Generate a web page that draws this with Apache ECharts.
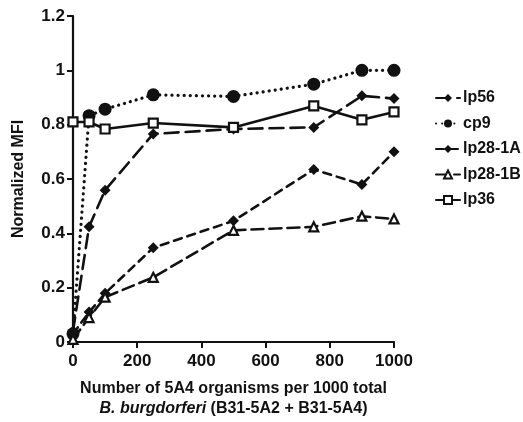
<!DOCTYPE html>
<html><head><meta charset="utf-8">
<script src="https://cdn.jsdelivr.net/npm/echarts@6/dist/echarts.min.js"></script>
<style>html,body{margin:0;padding:0;background:#fff}#c{width:523px;height:422px}</style>
</head><body><div id="c"></div>
<script>
const xValues = [0, 50, 100, 250, 500, 750, 900, 1000];
const lp56 = [0.04, 0.424, 0.559, 0.766, 0.784, 0.79, 0.906, 0.896];
const cp9 = [0.03, 0.833, 0.857, 0.91, 0.904, 0.949, 1.0, 1.0];
const lp28_1A = [0.03, 0.11, 0.179, 0.347, 0.446, 0.635, 0.58, 0.70];
const lp28_1B = [0.01, 0.09, 0.165, 0.238, 0.411, 0.424, 0.463, 0.453];
const lp36 = [0.81, 0.81, 0.784, 0.806, 0.79, 0.869, 0.818, 0.847];
const yTicks = ['0', '0.2', '0.4', '0.6', '0.8', '1', '1.2'];
const xTicks = ['0', '200', '400', '600', '800', '1000'];

const F = 'Liberation Sans, Arial, sans-serif';
const pair = arr => arr.map((v, i) => [xValues[i], v]);
function mk(name, data, symbol, size, dash, filled, width) {
  return {
    name, type: 'line', data: pair(data), symbol, symbolSize: size,
    showAllSymbol: true,
    lineStyle: {color: '#111', width: width || 2.6, type: dash, cap: 'round'},
    itemStyle: {color: filled ? '#111' : '#fff', borderColor: '#111', borderWidth: filled ? 0 : 2.2},
    z: 3
  };
}
const chart = echarts.init(document.getElementById('c'));
chart.setOption({
  animation: false,
  grid: {left: 73, right: 129, top: 16, bottom: 78, containLabel: false},
  xAxis: {
    type: 'value', min: 0, max: 1000, interval: 200,
    axisLine: {show: true, lineStyle: {color: '#111', width: 2.2}},
    axisTick: {show: true, length: 6, lineStyle: {color: '#111', width: 2}},
    splitLine: {show: false},
    axisLabel: {color: '#111', fontFamily: F, fontWeight: 'bold', fontSize: 17, margin: 11,
      formatter: (v) => xTicks[Math.round(v / 200)]},
    name: '{a|Number of 5A4 organisms per 1000 total}\n{b|B. burgdorferi}{a| (B31-5A2 + B31-5A4)}',
    nameLocation: 'middle', nameGap: 37,
    nameTextStyle: {
      rich: {
        a: {fontFamily: F, fontWeight: 'bold', fontSize: 16, color: '#111', lineHeight: 20},
        b: {fontFamily: F, fontWeight: 'bold', fontStyle: 'italic', fontSize: 16, color: '#111', lineHeight: 20}
      }
    }
  },
  yAxis: {
    type: 'value', min: 0, max: 1.2, interval: 0.2,
    axisLine: {show: true, lineStyle: {color: '#111', width: 2.2}},
    axisTick: {show: true, length: 6, lineStyle: {color: '#111', width: 2}},
    splitLine: {show: false},
    axisLabel: {color: '#111', fontFamily: F, fontWeight: 'bold', fontSize: 17, margin: 8,
      formatter: (v) => yTicks[Math.round(v / 0.2)]},
    name: 'Normalized MFI', nameLocation: 'middle', nameGap: 46, nameRotate: 90,
    nameTextStyle: {color: '#111', fontFamily: F, fontWeight: 'bold', fontSize: 16}
  },
  legend: {
    orient: 'vertical', left: 430, top: 85, itemGap: 9.5, itemWidth: 24, itemHeight: 10,
    textStyle: {color: '#111', fontFamily: F, fontWeight: 'bold', fontSize: 16, padding: [0, 0, 0, -2]},
    data: ['lp56', 'cp9', 'lp28-1A', 'lp28-1B', 'lp36']
  },
  series: [
    mk('lp56', lp56, 'diamond', 11, [14, 7], true),
    mk('cp9', cp9, 'circle', 13, [0.1, 6], true, 3.2),
    mk('lp28-1A', lp28_1A, 'diamond', 11, [8, 6], true),
    mk('lp28-1B', lp28_1B, 'triangle', 9, [12, 6], false),
    mk('lp36', lp36, 'rect', 9, 'solid', false)
  ]
});
</script></body></html>
